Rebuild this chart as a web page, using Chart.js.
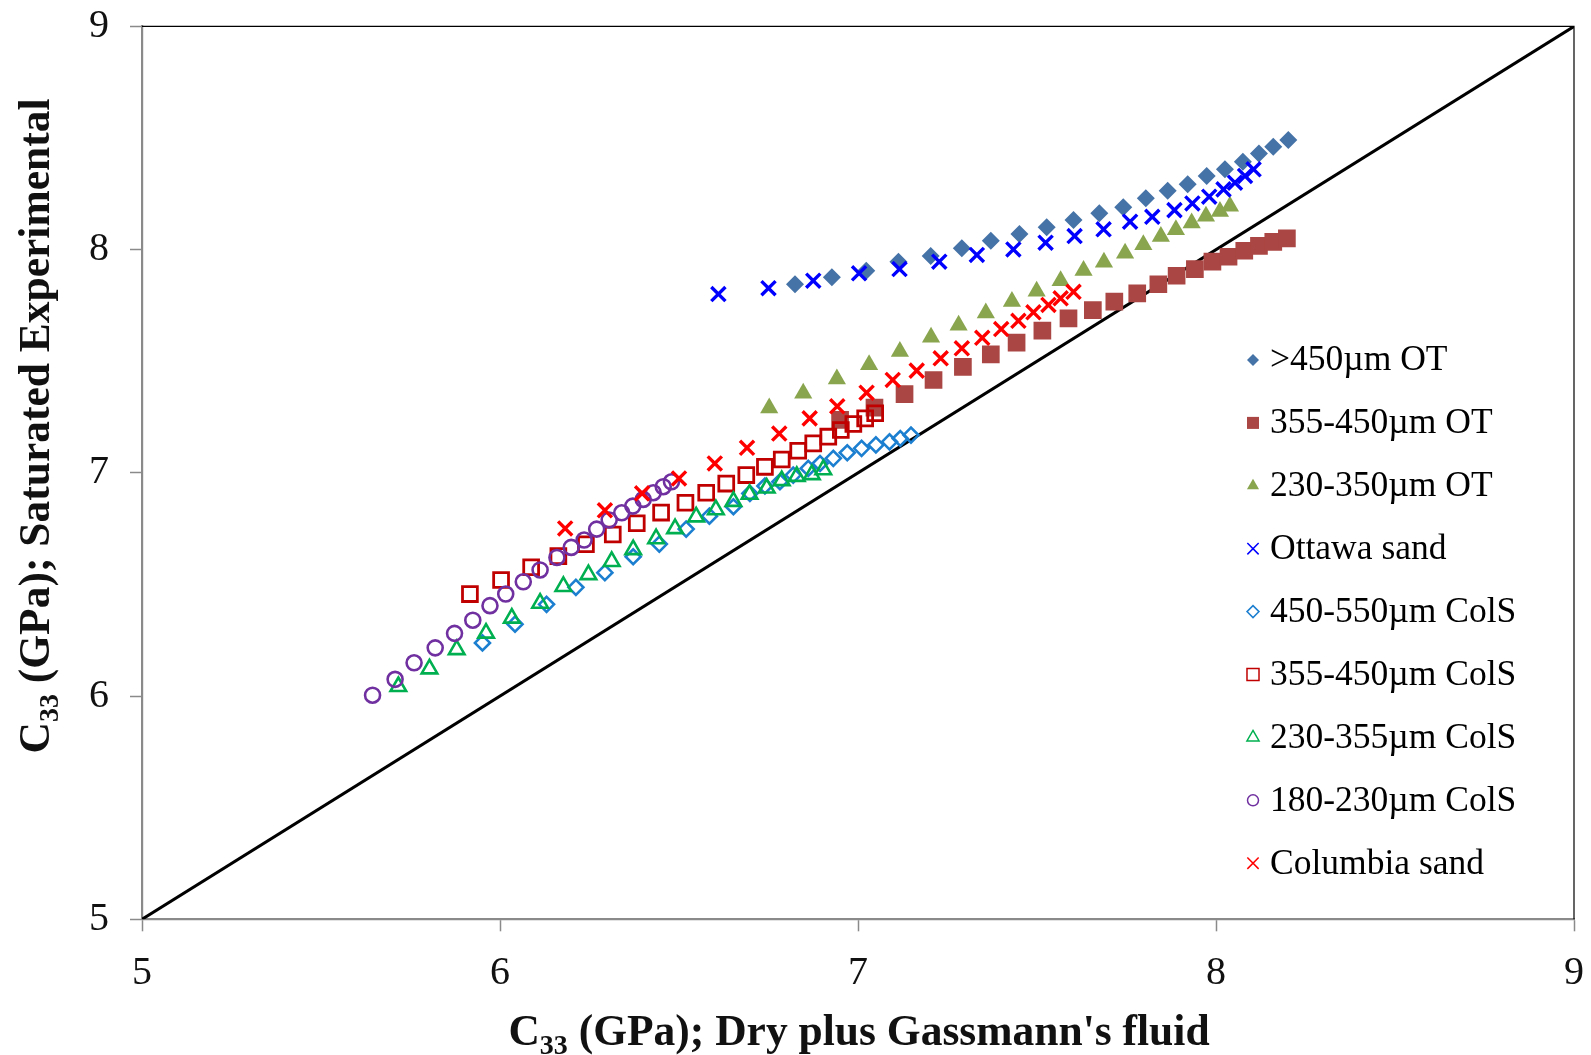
<!DOCTYPE html>
<html>
<head>
<meta charset="utf-8">
<script src="https://cdn.jsdelivr.net/npm/chart.js@4.4.1/dist/chart.umd.min.js"></script>
<style>
  html, body { margin: 0; padding: 0; background: #ffffff; }
  #wrap { width: 1591px; height: 1055px; position: relative; }
</style>
</head>
<body>
<div id="wrap"><canvas id="chart" width="1591" height="1055"></canvas></div>
<script>
// Series labels, in legend order
const seriesLabels = [
  '>450\u00b5m OT', '355-450\u00b5m OT', '230-350\u00b5m OT', 'Ottawa sand',
  '450-550\u00b5m ColS', '355-450\u00b5m ColS', '230-355\u00b5m ColS', '180-230\u00b5m ColS',
  'Columbia sand'
];

// Axis titles: symbol, subscript, remainder
const xTitleParts = ['C', '33', ' (GPa); Dry plus Gassmann\'s fluid'];
const yTitleParts = ['C', '33', ' (GPa); Saturated Experimental'];

// Axis ticks (GPa)
const tickValues = [5, 6, 7, 8, 9];

// 1:1 reference line
const unityX = [5, 9];
const unityY = [5, 9];

// >450µm OT
const otCoarseX = [6.824, 6.927, 7.023, 7.113, 7.203, 7.290, 7.371, 7.451, 7.527, 7.602, 7.674,
                   7.741, 7.804, 7.865, 7.921, 7.974, 8.025, 8.075, 8.120, 8.160, 8.202];
const otCoarseY = [7.845, 7.876, 7.905, 7.946, 7.971, 8.006, 8.040, 8.070, 8.100, 8.133, 8.163,
                   8.190, 8.230, 8.264, 8.293, 8.330, 8.360, 8.394, 8.431, 8.461, 8.491];

// 355-450µm OT
const otMediumX = [6.950, 7.046, 7.130, 7.211, 7.293, 7.371, 7.443, 7.515, 7.588, 7.656, 7.716,
                   7.780, 7.839, 7.890, 7.941, 7.990, 8.035, 8.079, 8.120, 8.160, 8.198];
const otMediumY = [7.237, 7.292, 7.353, 7.416, 7.475, 7.531, 7.583, 7.637, 7.692, 7.729, 7.767,
                   7.804, 7.845, 7.883, 7.913, 7.946, 7.968, 7.995, 8.017, 8.035, 8.050];

// 230-350µm OT
const otFineX = [6.752, 6.847, 6.941, 7.031, 7.117, 7.204, 7.281, 7.357, 7.430, 7.499, 7.566,
                 7.630, 7.687, 7.746, 7.797, 7.846, 7.888, 7.932, 7.972, 8.011, 8.039];
const otFineY = [7.290, 7.357, 7.420, 7.484, 7.544, 7.607, 7.661, 7.716, 7.768, 7.813, 7.861,
                 7.906, 7.944, 7.984, 8.022, 8.059, 8.089, 8.119, 8.149, 8.171, 8.194];

// Ottawa sand
const ottawaX = [6.610, 6.750, 6.875, 7.003, 7.116, 7.227, 7.332, 7.434, 7.524, 7.605,
                 7.686, 7.760, 7.822, 7.884, 7.934, 7.981, 8.021, 8.053, 8.081, 8.105];
const ottawaY = [7.801, 7.827, 7.861, 7.894, 7.913, 7.946, 7.976, 8.001, 8.031, 8.061,
                 8.091, 8.125, 8.147, 8.177, 8.207, 8.237, 8.270, 8.300, 8.330, 8.360];

// 450-550µm ColS
const colCoarseX = [5.951, 6.042, 6.130, 6.212, 6.293, 6.372, 6.445, 6.520, 6.585, 6.652, 6.698, 6.740,
                    6.782, 6.819, 6.861, 6.894, 6.931, 6.970, 7.010, 7.050, 7.088, 7.118, 7.148];
const colCoarseY = [6.238, 6.322, 6.411, 6.487, 6.553, 6.624, 6.681, 6.748, 6.806, 6.848, 6.908, 6.941,
                    6.960, 6.990, 7.020, 7.042, 7.065, 7.090, 7.110, 7.125, 7.139, 7.154, 7.169];

// 355-450µm ColS
const colMediumX = [5.916, 6.003, 6.087, 6.163, 6.240, 6.315, 6.382, 6.450, 6.518, 6.576, 6.632,
                    6.688, 6.740, 6.787, 6.833, 6.875, 6.917, 6.952, 6.987, 7.020, 7.048];
const colMediumY = [6.457, 6.520, 6.577, 6.627, 6.680, 6.724, 6.774, 6.822, 6.866, 6.911, 6.952,
                    6.990, 7.027, 7.060, 7.099, 7.132, 7.162, 7.192, 7.219, 7.244, 7.267];

// 230-355µm ColS
const colFineX = [5.716, 5.803, 5.879, 5.961, 6.033, 6.112, 6.177, 6.247, 6.312, 6.372, 6.436,
                  6.489, 6.548, 6.603, 6.652, 6.697, 6.745, 6.787, 6.829, 6.871, 6.903];
const colFineY = [6.043, 6.122, 6.208, 6.282, 6.349, 6.416, 6.491, 6.544, 6.603, 6.656, 6.705,
                  6.750, 6.803, 6.835, 6.872, 6.904, 6.932, 6.965, 6.984, 6.992, 7.014];

// 180-230µm ColS
const colFinestX = [5.644, 5.707, 5.760, 5.819, 5.873, 5.924, 5.972, 6.016, 6.065, 6.112, 6.159,
                    6.199, 6.235, 6.270, 6.305, 6.340, 6.371, 6.400, 6.428, 6.456, 6.479];
const colFinestY = [6.004, 6.075, 6.149, 6.216, 6.281, 6.340, 6.405, 6.457, 6.512, 6.565, 6.621,
                    6.666, 6.699, 6.748, 6.789, 6.821, 6.851, 6.881, 6.911, 6.938, 6.960];

// Columbia sand
const columbiaX = [6.182, 6.293, 6.397, 6.500, 6.600, 6.690, 6.780, 6.865, 6.942, 7.024, 7.097,
                   7.164, 7.231, 7.290, 7.347, 7.400, 7.448, 7.490, 7.532, 7.566, 7.602];
const columbiaY = [6.751, 6.832, 6.908, 6.975, 7.042, 7.112, 7.176, 7.244, 7.298, 7.359, 7.416,
                   7.458, 7.513, 7.558, 7.605, 7.644, 7.681, 7.719, 7.752, 7.782, 7.811];

const zip = (xs, ys) => xs.map((x, i) => ({ x: x, y: ys[i] }));

const SERIF = '"Liberation Serif", "Times New Roman", "DejaVu Serif", serif';

// Marker styling per series (chart marker, legend marker)
const seriesStyles = [
  { data: zip(otCoarseX, otCoarseY),   style: 'rectRot',  color: '#4572A7', filled: true,  radius: 9,    bw: 0,   lr: 6,   lbw: 0 },
  { data: zip(otMediumX, otMediumY),   style: 'rect',     color: '#AA4643', filled: true,  radius: 12.5, bw: 0,   lr: 8.5, lbw: 0 },
  { data: zip(otFineX, otFineY),       style: 'triangle', color: '#89A54E', filled: true,  radius: 10.5, bw: 0,   lr: 7,   lbw: 0 },
  { data: zip(ottawaX, ottawaY),       style: 'crossRot', color: '#0000FF', filled: false, radius: 10,   bw: 3.4, lr: 8,   lbw: 1.5 },
  { data: zip(colCoarseX, colCoarseY), style: 'rectRot',  color: '#1C7FD0', filled: false, radius: 7.5,  bw: 2.6, lr: 6,   lbw: 1.5 },
  { data: zip(colMediumX, colMediumY), style: 'rect',     color: '#C00000', filled: false, radius: 10.5, bw: 2.8, lr: 8.5, lbw: 1.5 },
  { data: zip(colFineX, colFineY),     style: 'triangle', color: '#00B050', filled: false, radius: 9,    bw: 2.6, lr: 7,   lbw: 1.5 },
  { data: zip(colFinestX, colFinestY), style: 'circle',   color: '#7030A0', filled: false, radius: 7.5,  bw: 2.6, lr: 5.5, lbw: 1.5 },
  { data: zip(columbiaX, columbiaY),   style: 'crossRot', color: '#FF0000', filled: false, radius: 10,   bw: 3.4, lr: 8,   lbw: 1.5 }
];

const datasets = seriesStyles.map((s, i) => ({
  label: seriesLabels[i],
  data: s.data,
  pointStyle: s.style,
  pointRadius: s.radius,
  pointHoverRadius: s.radius,
  pointBorderWidth: s.bw,
  pointBackgroundColor: s.filled ? s.color : 'rgba(0,0,0,0)',
  pointBorderColor: s.color,
  showLine: false,
  order: seriesStyles.length - i   // later series are drawn on top
}));

// 1:1 line underneath all markers
datasets.push({
  label: '1:1',
  data: zip(unityX, unityY),
  showLine: true,
  borderColor: '#000000',
  borderWidth: 3,
  pointRadius: 0,
  pointHoverRadius: 0,
  fill: false,
  order: 100
});

// Frame on the top and right of the plot area
const framePlugin = {
  id: 'plotFrame',
  beforeDatasetsDraw(chart) {
    const { ctx, chartArea: a } = chart;
    ctx.save();
    ctx.strokeStyle = '#000000';
    ctx.lineWidth = 1.2;
    ctx.beginPath();
    ctx.moveTo(a.left, a.top);
    ctx.lineTo(a.right, a.top);
    ctx.lineTo(a.right, a.bottom);
    ctx.stroke();
    ctx.restore();
  }
};

// Draws a bold title with a subscript, centred on (cx, baselineY) before rotation
function drawSubscriptTitle(ctx, parts, cx, cy, rotation) {
  const big = 'bold 43.5px ' + SERIF;
  const small = 'bold 28px ' + SERIF;
  ctx.save();
  ctx.font = big;   const w0 = ctx.measureText(parts[0]).width;
  ctx.font = small; const w1 = ctx.measureText(parts[1]).width;
  ctx.font = big;   const w2 = ctx.measureText(parts[2]).width;
  const total = w0 + w1 + w2;
  ctx.translate(cx, cy);
  ctx.rotate(rotation);
  ctx.fillStyle = '#111111';
  ctx.textBaseline = 'alphabetic';
  ctx.textAlign = 'left';
  let x = -total / 2;
  ctx.font = big;   ctx.fillText(parts[0], x, 0); x += w0;
  ctx.font = small; ctx.fillText(parts[1], x, 9); x += w1;
  ctx.font = big;   ctx.fillText(parts[2], x, 0);
  ctx.restore();
}

const axisTitles = {
  id: 'axisTitles',
  afterDraw(chart) {
    const ctx = chart.ctx;
    drawSubscriptTitle(ctx, xTitleParts, 859, 1045, 0);
    drawSubscriptTitle(ctx, yTitleParts, 48.5, 426, -Math.PI / 2);
  }
};

// Legend placed inside the plot area
const insideLegend = {
  id: 'insideLegend',
  afterDatasetsDraw(chart) {
    const ctx = chart.ctx;
    const markerX = 1253, textX = 1270, firstY = 360, rowGap = 62.9;
    ctx.save();
    ctx.font = '35.5px ' + SERIF;
    ctx.textBaseline = 'middle';
    ctx.textAlign = 'left';
    seriesStyles.forEach((s, i) => {
      const y = firstY + i * rowGap;
      ctx.fillStyle = s.filled ? s.color : 'rgba(0,0,0,0)';
      ctx.strokeStyle = s.color;
      ctx.lineWidth = s.lbw;
      Chart.helpers.drawPoint(ctx, {
        pointStyle: s.style, radius: s.lr, rotation: 0, borderWidth: s.lbw
      }, markerX, y);
      ctx.fillStyle = '#000000';
      ctx.fillText(chart.data.datasets[i].label, textX, y + 1);
    });
    ctx.restore();
  }
};

const axisCommon = {
  type: 'linear',
  min: 5,
  max: 9,
  border: { display: true, color: '#8A8A8A', width: 2.2 },
  grid: { display: true, drawOnChartArea: false, drawTicks: true, tickLength: 12, tickColor: '#8A8A8A', tickWidth: 1.5 },
  afterBuildTicks(scale) { scale.ticks = tickValues.map(v => ({ value: v })); }
};

new Chart(document.getElementById('chart'), {
  type: 'scatter',
  data: { datasets: datasets },
  options: {
    responsive: false,
    animation: false,
    devicePixelRatio: 1,
    layout: { padding: { top: 26.4, right: 17, left: 0, bottom: 0 } },
    plugins: {
      legend: { display: false },
      tooltip: { enabled: false }
    },
    scales: {
      x: Object.assign({}, axisCommon, {
        position: 'bottom',
        ticks: { font: { family: SERIF, size: 40 }, color: '#111111', padding: 18, maxRotation: 0 },
        title: { display: false },
        afterFit(scale) {
          scale.height = 135.7;
          scale.paddingLeft = 0; scale.paddingRight = 0;
        }
      }),
      y: Object.assign({}, axisCommon, {
        position: 'left',
        ticks: { font: { family: SERIF, size: 40 }, color: '#111111', padding: 21 },
        title: { display: false },
        afterFit(scale) {
          scale.width = 142;
          scale.paddingTop = 0; scale.paddingBottom = 0;
        }
      })
    }
  },
  plugins: [framePlugin, insideLegend, axisTitles]
});
</script>
</body>
</html>
